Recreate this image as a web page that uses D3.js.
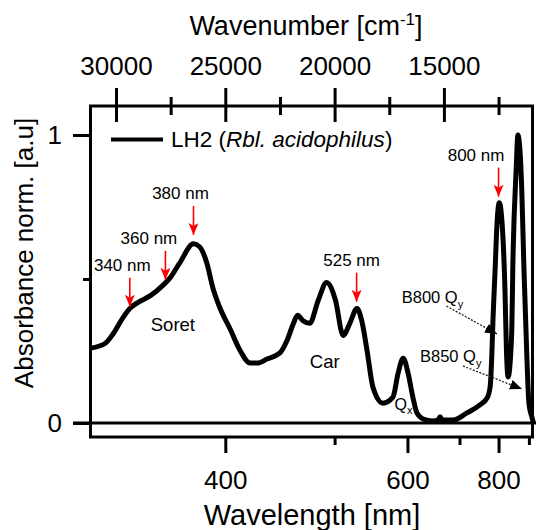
<!DOCTYPE html>
<html>
<head>
<meta charset="utf-8">
<script src="https://cdn.jsdelivr.net/npm/d3@7"></script>
<style>
body { margin: 0; background: #fff; }
text { font-family: "Liberation Sans", Arial, sans-serif; fill: #000; }
</style>
</head>
<body>
<div id="chart"></div>
<script>
// spectrum
var wavelength = [321, 328, 332, 337, 341, 345, 352, 359, 363, 369, 378, 382, 387, 391, 396, 404, 411, 419, 425, 433,
  445, 451, 457, 461, 466, 473, 482, 491, 501, 510, 518, 527, 533, 540, 548, 562, 577, 585, 593, 601,
  609, 616, 627, 645, 655, 659, 663, 686, 717, 749, 768, 776, 781, 784, 790, 795, 802, 813, 819, 824,
  829, 840, 845, 855, 861, 874, 882, 892, 900, 911, 917];
var absorbance = [0.26, 0.277, 0.311, 0.367, 0.401, 0.419, 0.443, 0.478, 0.502, 0.554, 0.622, 0.612, 0.554, 0.471, 0.401, 0.322, 0.253, 0.208, 0.208, 0.222,
  0.246, 0.287, 0.346, 0.374, 0.356, 0.346, 0.426, 0.488, 0.426, 0.304, 0.346, 0.398, 0.356, 0.253, 0.125, 0.069, 0.09, 0.173, 0.225, 0.173,
  0.09, 0.035, 0.014, 0.007, 0.01, 0.022, 0.01, 0.01, 0.035, 0.063, 0.087, 0.125, 0.243, 0.358, 0.531, 0.681, 0.765, 0.646, 0.472, 0.243,
  0.16, 0.30, 0.59, 0.878, 1.0, 0.819, 0.535, 0.243, 0.069, 0.021, 0.0];

var bottomMinor = [500, 700, 900];
var bottomMajor = [400, 600, 800];
var topMinor = [27500, 22500, 17500, 12500];
var topMajor = [30000, 25000, 20000, 15000];
var leftMinor = [0.5];
var leftMajor = [0, 1];

// red arrows: label, wavelength, absorbance at arrow tip, label shift
var peakNames = ["340 nm", "360 nm", "380 nm", "525 nm", "800 nm"];
var peakAt = [340.5, 360.5, 378, 526.5, 800];
var peakTip = [0.404, 0.497, 0.653, 0.421, 0.786];
var peakShift = [-7.5, -16.5, -13, -5, -22.5];

var bandNames = ["Soret", "Car"];
var bandAt = [365, 489];
var bandY = [0.32, 0.19];

var width = 536, height = 530;
var margin = {top: 106, right: 3, bottom: 93, left: 91};

var x = d3.scaleLinear()
  .domain([31144, 10924])       // wavenumber, cm-1
  .range([margin.left, width - margin.right]);
var y = d3.scaleLinear()
  .domain([-0.0486, 1.1007])
  .range([height - margin.bottom, margin.top]);

function nm(l) { return x(1e7 / l); }

var svg = d3.select("#chart").append("svg")
  .attr("width", width)
  .attr("height", height);

var defs = svg.append("defs");
defs.append("marker")
  .attr("id", "redhead")
  .attr("viewBox", "0 -5 12 10")
  .attr("refX", 12).attr("refY", 0)
  .attr("markerWidth", 12).attr("markerHeight", 10)
  .attr("markerUnits", "userSpaceOnUse")
  .attr("orient", "auto")
  .append("path")
  .attr("d", "M0,-5L12,0L0,5L3,0Z")
  .attr("fill", "#f00");
defs.append("marker")
  .attr("id", "blackhead")
  .attr("viewBox", "0 -5 12 10")
  .attr("refX", 12).attr("refY", 0)
  .attr("markerWidth", 12).attr("markerHeight", 10)
  .attr("markerUnits", "userSpaceOnUse")
  .attr("orient", "auto")
  .append("path")
  .attr("d", "M0,-5L12,0L0,5Z")
  .attr("fill", "#000");

/****************************************
* Axes
*****************************************/

function styleAxis(g) {
  g.select(".domain").remove();
  g.selectAll("line").attr("stroke", "#000").attr("stroke-width", 3);
  g.selectAll("text").attr("font-size", 26).attr("fill", "#000")
    .attr("font-family", "'Liberation Sans', Arial, sans-serif");
}

var yb = height - margin.bottom;

svg.append("g")
  .attr("transform", "translate(0," + yb + ")")
  .call(d3.axisBottom(x).tickValues(bottomMinor.map(function(d) { return 1e7 / d; })).tickSize(8).tickFormat(""))
  .call(styleAxis);
svg.append("g")
  .attr("transform", "translate(0," + yb + ")")
  .call(d3.axisBottom(x).tickValues(bottomMajor.map(function(d) { return 1e7 / d; })).tickSize(16).tickPadding(18)
    .tickFormat(function(d) { return Math.round(1e7 / d); }))
  .call(styleAxis);

// top ticks cross the frame
svg.append("g")
  .attr("transform", "translate(0," + (margin.top + 9) + ")")
  .call(d3.axisTop(x).tickValues(topMinor).tickSize(18).tickFormat(""))
  .call(styleAxis);
svg.append("g")
  .attr("transform", "translate(0," + (margin.top + 16) + ")")
  .call(d3.axisTop(x).tickValues(topMajor).tickSize(34).tickPadding(13).tickFormat(d3.format("d")))
  .call(styleAxis);

svg.append("g")
  .attr("transform", "translate(" + margin.left + ",0)")
  .call(d3.axisLeft(y).tickValues(leftMinor).tickSize(8).tickFormat(""))
  .call(styleAxis);
svg.append("g")
  .attr("transform", "translate(" + margin.left + ",0)")
  .call(d3.axisLeft(y).tickValues(leftMajor).tickSize(18).tickPadding(11).tickFormat(d3.format("d")))
  .call(styleAxis);

// frame
svg.append("rect")
  .attr("x", margin.left - 0.5)
  .attr("y", margin.top)
  .attr("width", width - margin.left - margin.right)
  .attr("height", height - margin.top - margin.bottom)
  .attr("fill", "none")
  .attr("stroke", "#000")
  .attr("stroke-width", 3);

// zero line
svg.append("line")
  .attr("x1", margin.left - 18).attr("x2", width)
  .attr("y1", y(0)).attr("y2", y(0))
  .attr("stroke", "#000")
  .attr("stroke-width", 3);

/****************************************
* Titles
*****************************************/

var topTitle = svg.append("text")
  .attr("x", 306).attr("y", 35)
  .attr("text-anchor", "middle")
  .attr("font-size", 27);
topTitle.append("tspan").text("Wavenumber [cm");
topTitle.append("tspan").attr("dy", -10).attr("font-size", 17).text("-1");
topTitle.append("tspan").attr("dy", 10).text("]");

svg.append("text")
  .attr("x", 312).attr("y", 525)
  .attr("text-anchor", "middle")
  .attr("font-size", 29)
  .text("Wavelength [nm]");

svg.append("text")
  .attr("transform", "translate(33,253) rotate(-90)")
  .attr("text-anchor", "middle")
  .attr("font-size", 26)
  .text("Absorbance norm. [a.u]");

/****************************************
* Spectrum
*****************************************/

var line = d3.line()
  .x(function(d, i) { return nm(wavelength[i]); })
  .y(function(d) { return y(d); })
  .curve(d3.curveMonotoneX);

svg.append("path")
  .datum(absorbance)
  .attr("d", line)
  .attr("fill", "none")
  .attr("stroke", "#000")
  .attr("stroke-width", 5)
  .attr("stroke-linejoin", "round");

// legend
svg.append("line")
  .attr("x1", 111).attr("x2", 163)
  .attr("y1", 139.5).attr("y2", 139.5)
  .attr("stroke", "#000")
  .attr("stroke-width", 4);
var leg = svg.append("text")
  .attr("x", 171).attr("y", 147)
  .attr("font-size", 22.5);
leg.append("tspan").text("LH2 (");
leg.append("tspan").attr("font-style", "italic").text("Rbl. acidophilus");
leg.append("tspan").text(")");

/****************************************
* Annotations
*****************************************/

peakNames.forEach(function(name, i) {
  var px = nm(peakAt[i]), py = y(peakTip[i]);
  svg.append("line")
    .attr("x1", px).attr("x2", px)
    .attr("y1", py - 29).attr("y2", py)
    .attr("stroke", "#f00")
    .attr("stroke-width", 1.6)
    .attr("marker-end", "url(#redhead)");
  svg.append("text")
    .attr("x", px + peakShift[i]).attr("y", py - 36)
    .attr("text-anchor", "middle")
    .attr("font-size", 17)
    .text(name);
});

bandNames.forEach(function(name, i) {
  svg.append("text")
    .attr("x", nm(bandAt[i])).attr("y", y(bandY[i]))
    .attr("text-anchor", "middle")
    .attr("font-size", 18.5)
    .text(name);
});

var qx = svg.append("text")
  .attr("x", nm(593.5)).attr("y", y(0.045))
  .attr("text-anchor", "middle")
  .attr("font-size", 16);
qx.append("tspan").text("Q");
qx.append("tspan").attr("dy", 4).attr("font-size", 11).text("x");

var qLabels = ["B800 Q", "B850 Q"];
var qLabelAt = [590.7, 621.4];
var qLabelY = [0.418, 0.213];
var qFrom = [[672, 0.406], [708, 0.198]];
var qTo = [[795.5, 0.309], [875, 0.118]];

qLabels.forEach(function(name, i) {
  var t = svg.append("text")
    .attr("x", nm(qLabelAt[i])).attr("y", y(qLabelY[i]))
    .attr("font-size", 16.5);
  t.append("tspan").text(name);
  t.append("tspan").attr("dy", 5).attr("font-size", 11).text("y");

  svg.append("line")
    .attr("x1", nm(qFrom[i][0])).attr("y1", y(qFrom[i][1]))
    .attr("x2", nm(qTo[i][0])).attr("y2", y(qTo[i][1]))
    .attr("stroke", "#222")
    .attr("stroke-width", 1.3)
    .attr("stroke-dasharray", "2,1.5")
    .attr("marker-end", "url(#blackhead)");
});
</script>
</body>
</html>
